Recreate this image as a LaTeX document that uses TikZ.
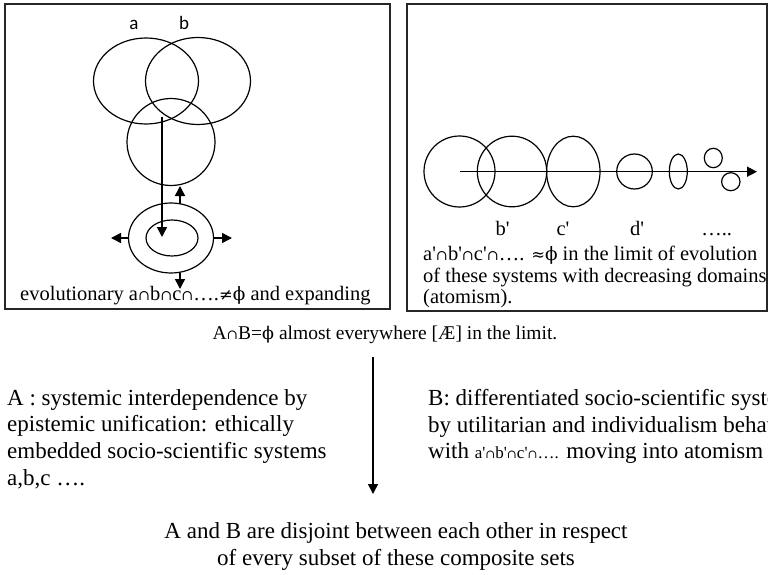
\documentclass[tikz,border=0pt]{standalone}
\usepackage{fontspec}
\setmainfont{Liberation Serif}[Ligatures=TeXOff]
\newfontfamily\symf{DejaVu Serif}
\newfontfamily\labf{Carlito}
\usetikzlibrary{shapes.geometric,arrows.meta}
\newcommand{\capx}{{\symf\scalebox{0.7}{∩}}}
\newcommand{\phix}{{\symf\scalebox{0.9}{ϕ}}}
\newcommand{\nex}{{\symf\scalebox{0.8}{≠}}}
\newcommand{\apx}{{\symf\scalebox{0.8}{≈}}}
\tikzset{
  ring/.style={draw, ellipse, line width=1.2pt, inner sep=0pt},
  frame/.style={draw, line width=1.3pt, black!85},
  arr/.style={line width=1.5pt, -{Triangle[length=10pt,width=10pt]}},
  txt/.style={inner sep=0pt, align=left, font=\fontsize{20.5}{21.5}\selectfont},
  big/.style={inner sep=0pt, align=left, font=\fontsize{23}{26.7}\selectfont},
  lab/.style={font=\labf\fontsize{19}{21}\selectfont, inner sep=0pt},
}
\begin{document}
\begin{tikzpicture}[x=1pt,y=-1pt]
\useasboundingbox (0,0) rectangle (768,575);
\clip (0,0) rectangle (768,575);
% frames
\draw[frame] (5,4) rectangle (390,309);
\draw[frame] (407,4) rectangle (767,311);
% left box
\node[ring, minimum width=105pt, minimum height=86pt] (ca) at (146,81) {};
\node[ring, minimum width=105pt, minimum height=87pt] (cb) at (198,81) {};
\node[ring, minimum width=88pt, minimum height=87pt] (cc) at (171,142) {};
\node[ring, minimum width=85pt, minimum height=70pt] (outer) at (171,238) {};
\node[ring, minimum width=52pt, minimum height=36pt] (inner) at (172,238) {};
\node[lab, anchor=base] (la) at (134,30) {a};
\node[lab, anchor=base] (lb) at (184,30) {b};
\coordinate (vs) at (162,117);
\coordinate (ve) at (162,237);
\draw[arr] (vs) -- (ve);
\coordinate (u0) at (180,204); \coordinate (u1) at (180,186);
\coordinate (d0) at (180,273); \coordinate (d1) at (180,289);
\coordinate (l0) at (129,238); \coordinate (l1) at (111,238);
\coordinate (r0) at (213,238); \coordinate (r1) at (232,238);
\draw[arr] (u0) -- (u1);
\draw[arr] (d0) -- (d1);
\draw[arr] (l0) -- (l1);
\draw[arr] (r0) -- (r1);
\node[txt, anchor=base west] (evo) at (20,300) {evolutionary a\capx b\capx c\capx….\nex\phix\ and expanding};
% right box
\node[ring, minimum width=71pt, minimum height=71pt] (r1c) at (459.5,171.5) {};
\node[ring, minimum width=69.4pt, minimum height=70.6pt] (r2c) at (512,171.5) {};
\node[ring, minimum width=53.4pt, minimum height=70.6pt] (r3c) at (573.3,171.5) {};
\node[ring, minimum width=35.6pt, minimum height=35pt] (r4c) at (634.5,171.5) {};
\node[ring, minimum width=18pt, minimum height=35pt] (r5c) at (678.3,171.5) {};
\node[ring, minimum width=18pt, minimum height=19.4pt] (r6c) at (713.3,158) {};
\node[ring, minimum width=18.4pt, minimum height=18pt] (r7c) at (730.8,181.7) {};
\coordinate (hs) at (460,171.7);
\coordinate (he) at (757,171.7);
\draw[arr] (hs) -- (he);
\node[txt, anchor=base] (lbp) at (502.7,235) {b'};
\node[txt, anchor=base] (lcp) at (563,235) {c'};
\node[txt, anchor=base] (ldp) at (637,235) {d'};
\node[txt, anchor=base] (ldots) at (716.7,235) {…..};
\node[txt, anchor=base west] (rt1) at (423,260) {a'\capx b'\capx c'\capx…. \apx\phix\ in the limit of evolution};
\node[txt, anchor=base west] (rt2) at (423,282) {of these systems with decreasing domains};
\node[txt, anchor=base west] (rt3) at (423,303) {(atomism).};
% bottom
\node[inner sep=0pt, font=\fontsize{19.5}{22}\selectfont, anchor=base] (top) at (385,339) {A\capx B=\phix\ almost everywhere [Æ] in the limit.};
\coordinate (m0) at (373,357);
\coordinate (m1) at (373,494);
\draw[arr] (m0) -- (m1);
\node[big, anchor=north west] (atext) at (7,389) {A : systemic interdependence by\\epistemic unification: ethically\\embedded socio-scientific systems\\a,b,c ….};
\node[big, anchor=north west] (btext) at (428,389) {B: differentiated socio-scientific systems\\by utilitarian and individualism behaviour\\with {\fontsize{17}{18}\selectfont a'\capx b'\capx c'\capx….} moving into atomism};
\node[big, align=center] (conc) at (396,546.5) {A and B are disjoint between each other in respect\\of every subset of these composite sets};
\end{tikzpicture}
\end{document}
